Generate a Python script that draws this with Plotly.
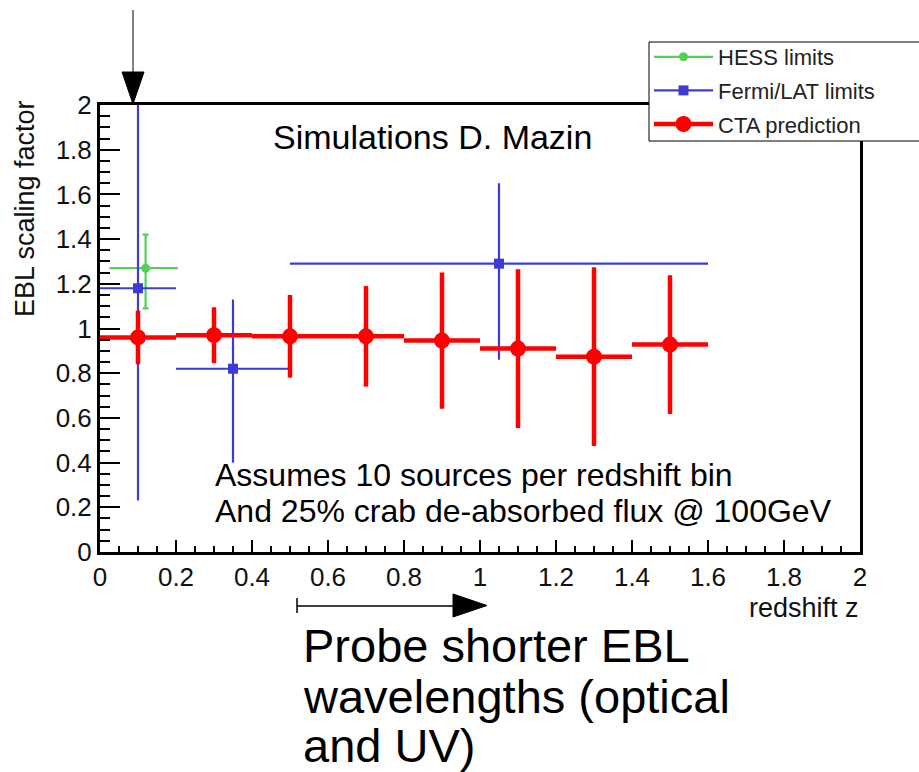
import plotly.graph_objects as go

# ---------------- data ----------------
hess_x = [0.12]
hess_y = [1.27]
hess_xm = [0.095]
hess_xp = [0.085]
hess_ym = [0.18]
hess_yp = [0.15]

fermi_x = [0.10, 0.35, 1.05]
fermi_y = [1.18, 0.82, 1.29]
fermi_xm = [0.10, 0.15, 0.55]
fermi_xp = [0.10, 0.15, 0.55]
fermi_ym = [0.95, 0.42, 0.43]
fermi_yp = [0.85, 0.31, 0.36]

cta_x = [0.1, 0.3, 0.5, 0.7, 0.9, 1.1, 1.3, 1.5]
cta_y = [0.96, 0.97, 0.965, 0.965, 0.946, 0.91, 0.874, 0.928]
cta_xerr = [0.1, 0.1, 0.1, 0.1, 0.1, 0.1, 0.1, 0.1]
cta_yerr = [0.12, 0.125, 0.185, 0.225, 0.305, 0.355, 0.40, 0.31]

x_ticks = [0, 0.2, 0.4, 0.6, 0.8, 1, 1.2, 1.4, 1.6, 1.8, 2]
y_ticks = [0, 0.2, 0.4, 0.6, 0.8, 1, 1.2, 1.4, 1.6, 1.8, 2]

GREEN = "#55cf55"
BLUE = "#3c3cd2"
RED = "#ff0000"
FONT = "Liberation Sans, Arial, sans-serif"

# ---------------- layout geometry ----------------
W, H = 919, 772
L, R, T, B = 100, 860, 105, 552


def px(x):
    return (x - L) / (R - L)


def py(y):
    return (B - y) / (B - T)


fig = go.Figure()

fig.add_trace(go.Scatter(
    x=hess_x, y=hess_y, mode="markers", showlegend=False,
    marker=dict(color=GREEN, size=9, symbol="circle"),
    error_x=dict(type="data", symmetric=False, array=hess_xp, arrayminus=hess_xm,
                 color=GREEN, thickness=2.2, width=0),
    error_y=dict(type="data", symmetric=False, array=hess_yp, arrayminus=hess_ym,
                 color=GREEN, thickness=2.2, width=3),
))
fig.add_trace(go.Scatter(
    x=fermi_x, y=fermi_y, mode="markers", showlegend=False,
    marker=dict(color=BLUE, size=10, symbol="square"),
    error_x=dict(type="data", symmetric=False, array=fermi_xp, arrayminus=fermi_xm,
                 color=BLUE, thickness=2.2, width=0),
    error_y=dict(type="data", symmetric=False, array=fermi_yp, arrayminus=fermi_ym,
                 color=BLUE, thickness=2.2, width=0),
))
fig.add_trace(go.Scatter(
    x=cta_x, y=cta_y, mode="markers", showlegend=False,
    marker=dict(color=RED, size=16, symbol="circle"),
    error_x=dict(type="data", array=cta_xerr, color=RED, thickness=4.5, width=0),
    error_y=dict(type="data", array=cta_yerr, color=RED, thickness=4.5, width=0),
))

# legend entries
fig.add_trace(go.Scatter(x=[None], y=[None], mode="lines+markers", name="HESS limits",
                         legendgroup="a",
                         line=dict(color=GREEN, width=2.2),
                         marker=dict(color=GREEN, size=9, symbol="circle")))
fig.add_trace(go.Scatter(x=[None], y=[None], mode="lines+markers", name="Fermi/LAT limits",
                         legendgroup="b",
                         line=dict(color=BLUE, width=2.2),
                         marker=dict(color=BLUE, size=10, symbol="square")))
fig.add_trace(go.Scatter(x=[None], y=[None], mode="lines+markers", name="CTA prediction",
                         legendgroup="c",
                         line=dict(color=RED, width=4.5),
                         marker=dict(color=RED, size=16, symbol="circle")))

axis_common = dict(
    range=[0, 2], showgrid=False, zeroline=False,
    showline=True, linecolor="black", linewidth=3, mirror=True,
    ticks="inside", tickcolor="black", tickwidth=1.5,
    tickfont=dict(family=FONT, size=26, color="#111"),
)
fig.update_xaxes(**axis_common, tickvals=x_ticks, ticklen=12,
                 minor=dict(dtick=0.05, ticks="inside", ticklen=6, tickcolor="black", tickwidth=1.5))
fig.update_yaxes(**axis_common, tickvals=y_ticks, ticklen=20,
                 minor=dict(dtick=0.05, ticks="inside", ticklen=10, tickcolor="black", tickwidth=1.5))

annotations = [
    dict(text="EBL scaling factor", x=px(25), y=py(209), textangle=-90,
         font=dict(family=FONT, size=27, color="#111")),
    dict(text="redshift z", x=px(861), y=py(608), xanchor="right",
         font=dict(family=FONT, size=27, color="#111")),
    dict(text="Simulations D. Mazin", x=px(432), y=py(137),
         font=dict(family=FONT, size=34, color="black")),
    dict(text="Assumes 10 sources per redshift bin", x=px(213), y=py(475), xanchor="left",
         font=dict(family=FONT, size=32, color="black")),
    dict(text="And 25% crab de-absorbed flux @ 100GeV", x=px(213), y=py(511), xanchor="left",
         font=dict(family=FONT, size=32, color="black")),
    dict(text="Probe shorter EBL", x=px(301), y=py(645), xanchor="left",
         font=dict(family=FONT, size=47, color="black")),
    dict(text="wavelengths (optical", x=px(301), y=py(696), xanchor="left",
         font=dict(family=FONT, size=47, color="black")),
    dict(text="and UV)", x=px(301), y=py(745), xanchor="left",
         font=dict(family=FONT, size=47, color="black")),
]
for a in annotations:
    a.update(xref="paper", yref="paper", showarrow=False, yanchor="middle")
    a.setdefault("xanchor", "center")

shapes = [
    # legend box (extends past the right edge like the reference)
    dict(type="rect", x0=px(649), x1=px(935), y0=py(42), y1=py(141),
         fillcolor="white", line=dict(color="black", width=1)),
    # vertical arrow at top
    dict(type="line", x0=px(133), x1=px(133), y0=py(10), y1=py(76),
         line=dict(color="#555", width=1.5)),
    dict(type="path",
         path=f"M {px(122)} {py(72)} L {px(144)} {py(72)} L {px(133)} {py(104)} Z",
         fillcolor="black", line=dict(color="black", width=1)),
    # horizontal arrow below axis
    dict(type="line", x0=px(297), x1=px(297), y0=py(598), y1=py(613),
         line=dict(color="black", width=1.5)),
    dict(type="line", x0=px(297), x1=px(456), y0=py(606), y1=py(606),
         line=dict(color="black", width=1.5)),
    dict(type="path",
         path=f"M {px(453)} {py(594)} L {px(487)} {py(605.5)} L {px(453)} {py(617)} Z",
         fillcolor="black", line=dict(color="black", width=1)),
]
for s in shapes:
    s.update(xref="paper", yref="paper", layer="above")

fig.update_layout(
    width=W, height=H, autosize=False,
    margin=dict(l=L, r=W - R, t=T, b=H - B, autoexpand=False),
    paper_bgcolor="white", plot_bgcolor="white",
    annotations=annotations, shapes=shapes,
    legend=dict(x=px(649), y=py(36), xanchor="left", yanchor="top",
                bgcolor="rgba(0,0,0,0)", borderwidth=0,
                font=dict(family=FONT, size=22, color="#222"),
                itemwidth=59, tracegroupgap=2),
)

fig.write_html("out.html")
